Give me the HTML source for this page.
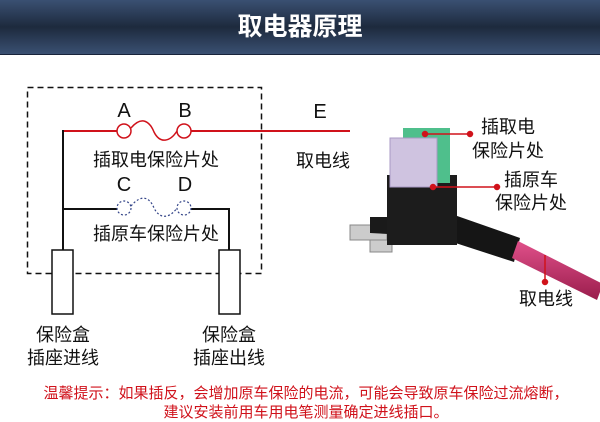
<!DOCTYPE html>
<html><head><meta charset="utf-8"><style>
body{margin:0;width:600px;height:422px;background:#fff;overflow:hidden;font-family:"Liberation Sans","Noto Sans CJK SC",sans-serif;}
.hd{position:absolute;left:0;top:0;width:600px;height:54px;background:linear-gradient(#3a5072,#1d2a3d 50%,#3a5072);border-bottom:1px solid #18233a}
.hd div{color:#fff;font-weight:bold;font-size:25px;text-align:center;line-height:54px}
svg{position:absolute;left:0;top:0}
</style></head><body>
<div class="hd"><div>取电器原理</div></div>
<svg width="600" height="422" font-family="Liberation Sans, Noto Sans CJK SC, sans-serif">
<defs><linearGradient id="cab" x1="0" y1="0" x2="0" y2="1"><stop offset="0" stop-color="#e0508a"/><stop offset="1" stop-color="#9a1d4c"/></linearGradient></defs>
<rect x="27.5" y="87.5" width="234" height="186" fill="none" stroke="#111" stroke-width="1.5" stroke-dasharray="6,4"/>
<line x1="63" y1="131" x2="117" y2="131" stroke="#d0121b" stroke-width="2"/>
<line x1="191" y1="131" x2="350" y2="131" stroke="#d0121b" stroke-width="2"/>
<circle cx="124" cy="131" r="7" fill="#fff" stroke="#d0121b" stroke-width="1.5"/>
<circle cx="184" cy="131" r="7" fill="#fff" stroke="#d0121b" stroke-width="1.5"/>
<path d="M131 128 C142 115,150 122,154 132 C160 144,170 142,177 131" fill="none" stroke="#d0121b" stroke-width="1.5"/>
<line x1="63" y1="130" x2="63" y2="250" stroke="#111" stroke-width="2"/>
<line x1="63" y1="209" x2="124" y2="209" stroke="#111" stroke-width="2"/>
<polyline points="184,209 229,209 229,250" fill="none" stroke="#111" stroke-width="2"/>
<circle cx="124" cy="208" r="7" fill="#fff" stroke="#334488" stroke-width="1.2" stroke-dasharray="2,2"/>
<circle cx="184" cy="208" r="7" fill="#fff" stroke="#334488" stroke-width="1.2" stroke-dasharray="2,2"/>
<path d="M131 206 C142 193,150 198,154 208 C160 220,170 218,177 208" fill="none" stroke="#334488" stroke-width="1.2" stroke-dasharray="2,2"/>
<rect x="52" y="250" width="21" height="64" fill="#fff" stroke="#111" stroke-width="1.5"/>
<rect x="219" y="250" width="21" height="64" fill="#fff" stroke="#111" stroke-width="1.5"/>
<g font-size="20" fill="#111" text-anchor="middle">
<text x="124" y="117">A</text><text x="185" y="117">B</text>
<text x="124" y="191">C</text><text x="185" y="191">D</text>
<text x="320" y="118">E</text>
</g>
<g font-size="18" fill="#111" text-anchor="middle">
<text x="156" y="166">插取电保险片处</text>
<text x="156" y="240">插原车保险片处</text>
<text x="323" y="167">取电线</text>
<text x="508" y="133">插取电</text><text x="508" y="157">保险片处</text>
<text x="531" y="186">插原车</text><text x="531" y="209">保险片处</text>
<text x="546" y="305">取电线</text>
<text x="63" y="341">保险盒</text><text x="63" y="364">插座进线</text>
<text x="229" y="341">保险盒</text><text x="229" y="364">插座出线</text>
</g>
<path d="M440 210 L520 238 L514 262 L434 236Z" fill="#151515"/>
<path d="M518 241 L603 284 L597 300 L512 258Z" fill="url(#cab)"/>
<polygon points="350,225 387,225 387,240 350,240" fill="#ccc" stroke="#888"/>
<polygon points="370,240 392,240 392,252 370,252" fill="#ccc" stroke="#888"/>
<polygon points="370,217 407,217 407,235 370,233" fill="#1a1a1a"/>
<rect x="387" y="175" width="70" height="70" fill="#1c1c1c"/>
<rect x="403" y="128" width="47" height="55" fill="#4fbf8c"/>
<rect x="390" y="138" width="47" height="49" fill="#cfc3e0" stroke="#a898c4"/>
<g stroke="#d0121b" stroke-width="1.5" fill="#d0121b">
<line x1="425" y1="134" x2="470" y2="134"/><circle cx="425" cy="134" r="2.5"/><circle cx="470" cy="134" r="2.5"/>
<line x1="433" y1="187" x2="497" y2="187"/><circle cx="433" cy="187" r="2.5"/><circle cx="497" cy="187" r="2.5"/>
<line x1="545" y1="255" x2="545" y2="282"/><circle cx="545" cy="282" r="2.5"/>
</g>
<g font-size="15" fill="#d0121b" text-anchor="middle">
<text x="306" y="398">温馨提示：如果插反，会增加原车保险的电流，可能会导致原车保险过流熔断，</text>
<text x="306" y="417">建议安装前用车用电笔测量确定进线插口。</text>
</g>
</svg>
</body></html>
